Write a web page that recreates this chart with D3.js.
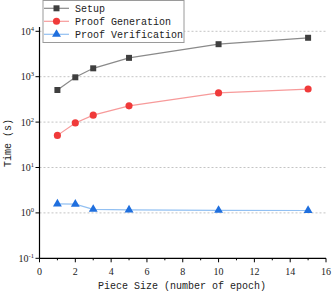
<!DOCTYPE html>
<html><head><meta charset="utf-8">
<script src="https://cdn.jsdelivr.net/npm/d3@7"></script>
<style>body{margin:0;background:#fff}svg{display:block}
.mono{font-family:'Liberation Mono','Courier New',Courier,'DejaVu Sans Mono',monospace}
.serif{font-family:'Liberation Serif','Times New Roman',Times,'DejaVu Serif',serif}
</style>
</head><body>
<script>
const pieceSizes = [1, 2, 3, 5, 10, 15];
const setupTimes = [510, 970, 1530, 2600, 5200, 7200];
const proofGenTimes = [51, 96, 142, 228, 440, 535];
const proofVerTimes = [1.58, 1.56, 1.2, 1.16, 1.14, 1.13];
const seriesNames = ["Setup", "Proof Generation", "Proof Verification"];
const xTicks = [0, 2, 4, 6, 8, 10, 12, 14, 16];
const yTickExps = [-1, 0, 1, 2, 3, 4];
const xLabel = "Piece Size (number of epoch)";
const yLabel = "Time (s)";

const W = 332, H = 293;
const svg = d3.select("body").append("svg").attr("width", W).attr("height", H);
const x = d3.scaleLinear().domain([0, 16]).range([39.5, 326]);
const y = d3.scaleLog().domain([0.1, 10000]).range([258.3, 31.3]);

const series = [
  {name: seriesNames[0], vals: setupTimes, line: "#8a8a8a", mark: "#3f3f3f", shape: d3.symbolSquare, size: 36},
  {name: seriesNames[1], vals: proofGenTimes, line: "#f79a9a", mark: "#f03a3a", shape: d3.symbolCircle, size: 40},
  {name: seriesNames[2], vals: proofVerTimes, line: "#92c0f2", mark: "#1f6fde", shape: d3.symbolTriangle, size: 34}
];

// grid
svg.append("g").selectAll("line").data(yTickExps.filter(e => e > -1)).join("line")
  .attr("x1", x(0)).attr("x2", x(16))
  .attr("y1", e => y(Math.pow(10, e))).attr("y2", e => y(Math.pow(10, e)))
  .attr("stroke", "#c4c4c4").attr("stroke-width", 1).attr("stroke-dasharray", "2,2");

// x axis
const xg = svg.append("g").attr("transform", `translate(0,${y(0.1)})`);
xg.append("line").attr("x1", x(0)).attr("x2", x(16)).attr("stroke", "#000").attr("stroke-width", 1.2);
xg.selectAll(".maj").data(xTicks).join("line").attr("class","maj")
  .attr("x1", d => x(d)).attr("x2", d => x(d)).attr("y1", 0).attr("y2", 4)
  .attr("stroke", "#000").attr("stroke-width", 1);
xg.selectAll(".min").data(d3.range(1, 16, 2)).join("line").attr("class","min")
  .attr("x1", d => x(d)).attr("x2", d => x(d)).attr("y1", 0).attr("y2", 2)
  .attr("stroke", "#000").attr("stroke-width", 1);
xg.selectAll("text").data(xTicks).join("text").attr("class", "serif")
  .attr("x", d => x(d)).attr("y", 17).attr("text-anchor", "middle")
  .attr("font-size", 10).attr("fill", "#222")
  .text(d => d);

// y axis
const yg = svg.append("g");
yg.append("line").attr("x1", x(0)).attr("x2", x(0)).attr("y1", 27).attr("y2", y(0.1)).attr("stroke", "#000").attr("stroke-width", 1.2);
yg.selectAll(".tk").data(yTickExps).join("line").attr("class","tk")
  .attr("x1", x(0) - 4).attr("x2", x(0))
  .attr("y1", e => y(Math.pow(10, e))).attr("y2", e => y(Math.pow(10, e)))
  .attr("stroke", "#000").attr("stroke-width", 1);
const yl = yg.selectAll("text").data(yTickExps).join("text").attr("class", "serif")
  .attr("x", 34).attr("y", e => y(Math.pow(10, e)) + 3.5).attr("text-anchor", "end")
  .attr("font-size", 10).attr("fill", "#222");
yl.append("tspan").text("10");
yl.append("tspan").attr("dy", -4).attr("font-size", 6.5).text(e => e);

// axis titles
svg.append("text").attr("class", "mono").attr("x", 182).attr("y", 289).attr("text-anchor", "middle")
  .attr("font-size", 10).attr("fill", "#222").text(xLabel);
svg.append("text").attr("class", "mono").attr("transform", "translate(11,143) rotate(-90)").attr("text-anchor", "middle")
  .attr("font-size", 10).attr("fill", "#222").text(yLabel);

// series
const line = d3.line().x(d => x(d[0])).y(d => y(d[1]));
series.forEach(s => {
  const pts = pieceSizes.map((p, i) => [p, s.vals[i]]);
  svg.append("path").datum(pts).attr("d", line).attr("fill", "none").attr("stroke", s.line).attr("stroke-width", 1.2);
  svg.append("g").selectAll("path").data(pts).join("path")
    .attr("transform", d => `translate(${x(d[0])},${y(d[1])})`)
    .attr("d", d3.symbol().type(s.shape).size(s.size)).attr("fill", s.mark);
});

// legend
const lg = svg.append("g");
lg.append("rect").attr("x", 43).attr("y", 0.5).attr("width", 141).attr("height", 42)
  .attr("fill", "#fff").attr("stroke", "#9a9a9a").attr("stroke-width", 1);
series.forEach((s, i) => {
  const cy = 8.3 + i * 13;
  lg.append("line").attr("x1", 44).attr("x2", 69).attr("y1", cy).attr("y2", cy).attr("stroke", s.line).attr("stroke-width", 1.2);
  lg.append("path").attr("transform", `translate(56.5,${cy})`).attr("d", d3.symbol().type(s.shape).size(s.size)).attr("fill", s.mark);
  lg.append("text").attr("class", "mono").attr("x", 75).attr("y", cy + 3.5)
    .attr("font-size", 10).attr("fill", "#222").text(s.name);
});
</script>
</body></html>
